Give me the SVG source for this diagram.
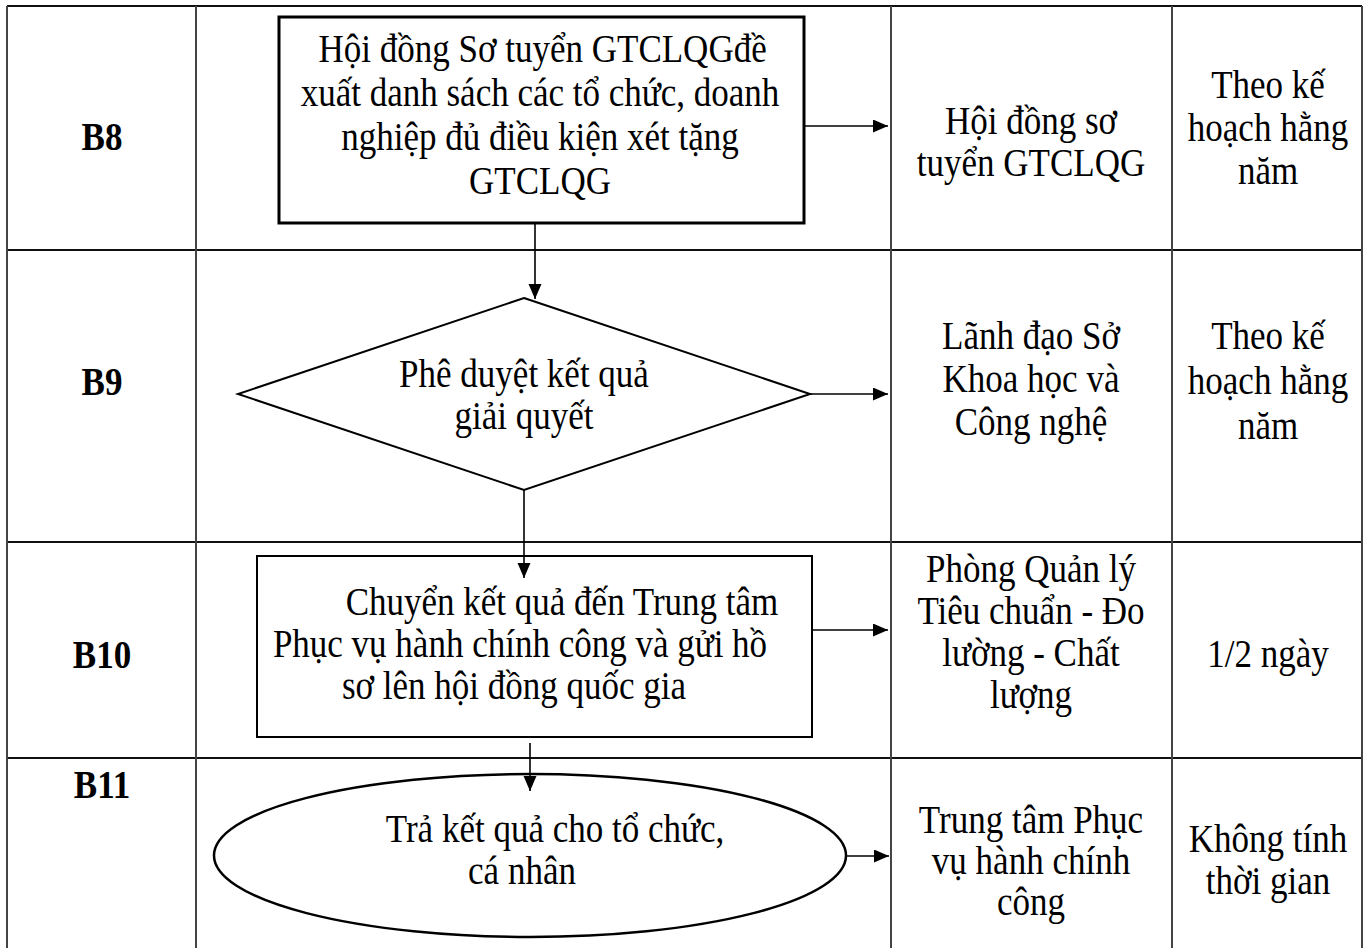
<svg xmlns="http://www.w3.org/2000/svg" width="1365" height="948" viewBox="0 0 1365 948">
<style>
.t{font-family:"Liberation Serif","Times New Roman",serif;font-size:40px;fill:#000;text-anchor:middle}
.b{font-weight:bold}
.row{stroke:#111;stroke-width:2;fill:none}
.col{stroke:#444;stroke-width:2;fill:none}
.shape{fill:#fff;stroke:#000}
.conn{stroke:#000;stroke-width:1.6;fill:none}
</style>
<defs>
<marker id="ah" markerUnits="userSpaceOnUse" markerWidth="16" markerHeight="14" refX="15" refY="6.5" orient="auto">
<path d="M0,0 L15,6.5 L0,13 z" fill="#000"/>
</marker>
</defs>
<rect width="1365" height="948" fill="#fff"/>
<g id="table">
<path class="row" d="M7,6 H1362 M7,250 H1362 M7,542 H1362 M7,758 H1362"/>
<path class="col" d="M7,6 V948 M196,6 V948 M891,6 V948 M1172,6 V948 M1362,6 V948"/>
</g>
<g id="labels">
<g transform="matrix(0.875 0 0 1 102 0)">
<text class="t b" x="0" y="150">B8</text>
<text class="t b" x="0" y="395">B9</text>
<text class="t b" x="0" y="668">B10</text>
<text class="t b" x="0" y="798">B11</text>
</g>
</g>
<g id="n-b8">
<rect class="shape" x="279" y="17" width="525" height="206" stroke-width="3"/>
<g transform="matrix(0.875 0 0 1 540 0)">
<text class="t" x="3" y="62">Hội đồng Sơ tuyển GTCLQGđề</text>
<text class="t" x="0" y="106">xuất danh sách các tổ chức, doanh</text>
<text class="t" x="0" y="150">nghiệp đủ điều kiện xét tặng</text>
<text class="t" x="0" y="194">GTCLQG</text>
</g>
</g>
<g id="n-b9">
<polygon class="shape" points="524,298 810,394 524,490 238,394" stroke-width="2"/>
<g transform="matrix(0.875 0 0 1 524 0)">
<text class="t" x="0" y="387">Phê duyệt kết quả</text>
<text class="t" x="0" y="429">giải quyết</text>
</g>
</g>
<g id="n-b10">
<rect class="shape" x="257" y="556" width="555" height="181" stroke-width="2"/>
<text class="t" transform="matrix(0.875 0 0 1 562 0)" x="0" y="615">Chuyển kết quả đến Trung tâm</text>
<text class="t" transform="matrix(0.875 0 0 1 520 0)" x="0" y="657">Phục vụ hành chính công và gửi hồ</text>
<text class="t" transform="matrix(0.875 0 0 1 514 0)" x="0" y="699">sơ lên hội đồng quốc gia</text>
</g>
<g id="n-b11">
<ellipse class="shape" cx="530" cy="855.5" rx="316" ry="81.5" stroke-width="2.5"/>
<text class="t" transform="matrix(0.875 0 0 1 555 0)" x="0" y="842">Trả kết quả cho tổ chức,</text>
<text class="t" transform="matrix(0.875 0 0 1 522 0)" x="0" y="884">cá nhân</text>
</g>
<g id="who">
<g transform="matrix(0.875 0 0 1 1031 0)">
<text class="t" x="0" y="134">Hội đồng sơ</text>
<text class="t" x="0" y="176">tuyển GTCLQG</text>
<text class="t" x="0" y="349">Lãnh đạo Sở</text>
<text class="t" x="0" y="392">Khoa học và</text>
<text class="t" x="0" y="435">Công nghệ</text>
<text class="t" x="0" y="582">Phòng Quản lý</text>
<text class="t" x="0" y="624">Tiêu chuẩn - Đo</text>
<text class="t" x="0" y="666">lường - Chất</text>
<text class="t" x="0" y="708">lượng</text>
<text class="t" x="0" y="833">Trung tâm Phục</text>
<text class="t" x="0" y="874">vụ hành chính</text>
<text class="t" x="0" y="915">công</text>
</g>
</g>
<g id="time">
<g transform="matrix(0.875 0 0 1 1268 0)">
<text class="t" x="0" y="98">Theo kế</text>
<text class="t" x="0" y="141">hoạch hằng</text>
<text class="t" x="0" y="184">năm</text>
<text class="t" x="0" y="349">Theo kế</text>
<text class="t" x="0" y="394">hoạch hằng</text>
<text class="t" x="0" y="439">năm</text>
<text class="t" x="0" y="667">1/2 ngày</text>
<text class="t" x="0" y="852">Không tính</text>
<text class="t" x="0" y="894">thời gian</text>
</g>
</g>
<g id="connectors">
<line class="conn" x1="535" y1="224" x2="535" y2="299" marker-end="url(#ah)"/>
<line class="conn" x1="805" y1="126" x2="888" y2="126" marker-end="url(#ah)"/>
<line class="conn" x1="810" y1="394" x2="888" y2="394" marker-end="url(#ah)"/>
<line class="conn" x1="524" y1="490" x2="524" y2="578" marker-end="url(#ah)"/>
<line class="conn" x1="813" y1="630" x2="888" y2="630" marker-end="url(#ah)"/>
<line class="conn" x1="530" y1="743" x2="530" y2="791" marker-end="url(#ah)"/>
<line class="conn" x1="847" y1="856" x2="889" y2="856" marker-end="url(#ah)"/>
</g>
</svg>
